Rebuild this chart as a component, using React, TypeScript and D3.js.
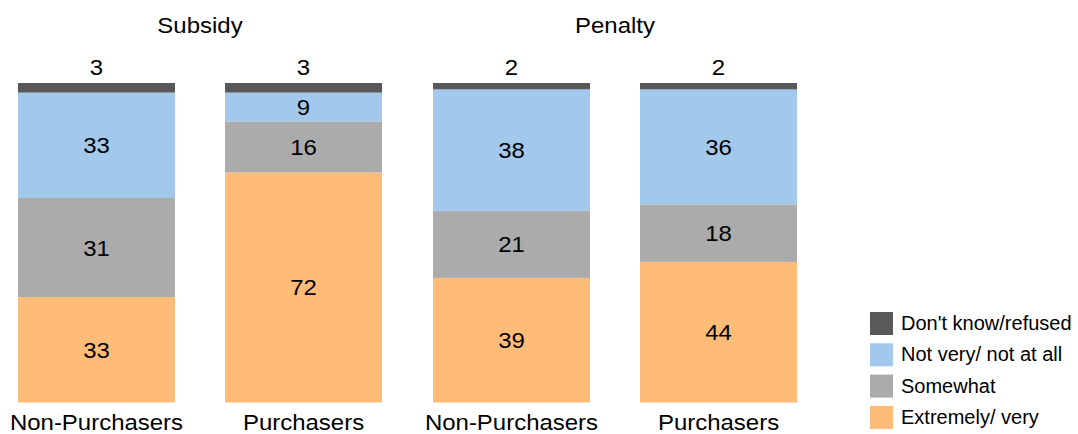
import React from "react";
import * as d3 from "d3";

const groups = ["Subsidy", "Penalty"];
const categories = ["Non-Purchasers", "Purchasers", "Non-Purchasers", "Purchasers"];
const barGroup = [0, 0, 1, 1];
const seriesNames = ["Extremely/ very", "Somewhat", "Not very/ not at all", "Don't know/refused"];
const extremely = [33, 72, 39, 44];
const somewhat = [31, 16, 21, 18];
const notVery = [33, 9, 38, 36];
const dontKnow = [3, 3, 2, 2];
const colors = ["#FFBC79", "#ABABAB", "#A2C8EC", "#595959"];

const W = 1078;
const H = 434;
const FONT = "'Liberation Sans', Arial, sans-serif";
const SX = 1.09;

function T({ x, y, children, size = 22 }: { x: number; y: number; children: any; size?: number }) {
  return (
    <text transform={`translate(${x},${y}) scale(${SX},1)`} textAnchor="middle" fontSize={size} fill="#000">
      {children}
    </text>
  );
}

export default function App() {
  const series = [extremely, somewhat, notVery, dontKnow];
  const rows = categories.map((c, i) => ({
    key: String(i),
    e: extremely[i],
    s: somewhat[i],
    n: notVery[i],
    d: dontKnow[i],
  }));
  const stack = d3.stack<any>().keys(["e", "s", "n", "d"])(rows);

  const barX = (i: number) => [18, 225, 433, 640][i];
  const bw = 157;
  const y = d3.scaleLinear().domain([0, 100]).range([402.5, 83]);

  const groupCenters = groups.map((g, gi) => {
    const idx = barGroup.map((b, i) => (b === gi ? i : -1)).filter((i) => i >= 0);
    const left = barX(idx[0]);
    const right = barX(idx[idx.length - 1]) + bw;
    return (left + right) / 2;
  });

  return (
    <svg width={W} height={H} style={{ position: "absolute", left: 0, top: 0 }} fontFamily={FONT}>
      <rect width={W} height={H} fill="#fff" />
      {groups.map((g, gi) => (
        <T key={g} x={groupCenters[gi]} y={32.5}>
          {g}
        </T>
      ))}
      {stack.map((layer, li) => (
        <g key={li}>
          {layer.map((d, i) => (
            <rect key={i} x={barX(i)} width={bw} y={y(d[1])} height={y(d[0]) - y(d[1])} fill={colors[li]} />
          ))}
        </g>
      ))}
      {stack.map((layer, li) =>
        layer.map((d, i) => {
          const v = series[li][i];
          const isTop = li === 3;
          const cy = isTop ? y(d[1]) - 8 : (y(d[0]) + y(d[1])) / 2 + 8;
          return (
            <T key={`${li}-${i}`} x={barX(i) + bw / 2} y={cy}>
              {v}
            </T>
          );
        })
      )}
      {categories.map((c, i) => (
        <T key={i} x={barX(i) + bw / 2} y={430}>
          {c}
        </T>
      ))}
      {seriesNames
        .slice()
        .reverse()
        .map((s, k) => {
          const ci = 3 - k;
          const yy = 312 + k * 31.3;
          return (
            <g key={s}>
              <rect x={870} y={yy} width={23} height={23} fill={colors[ci]} />
              <text x={901} y={yy + 18} fontSize={20} fill="#000">
                {s}
              </text>
            </g>
          );
        })}
    </svg>
  );
}
